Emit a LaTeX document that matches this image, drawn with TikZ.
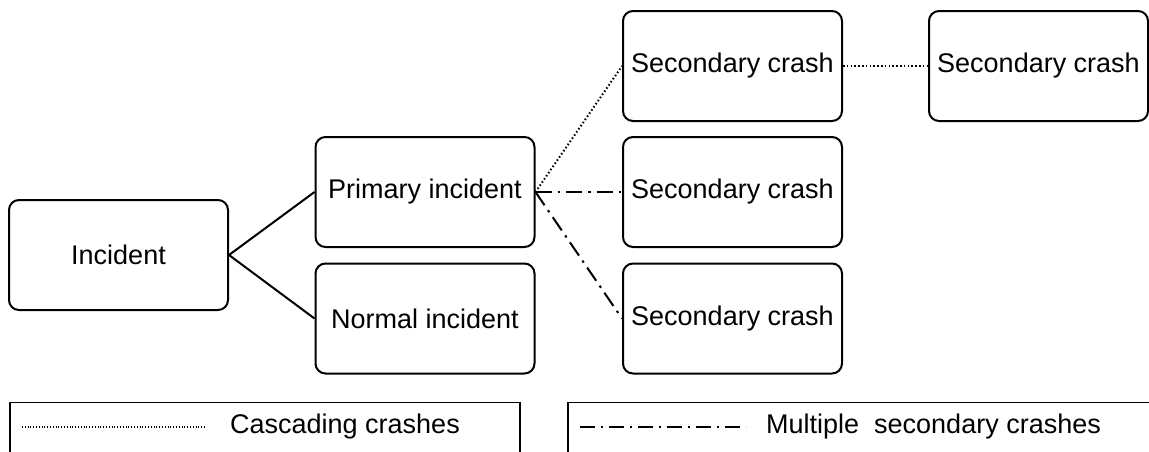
\documentclass[tikz,border=0pt]{standalone}
\usepackage{fontspec}
\setmainfont{Liberation Sans}
\begin{document}
\begin{tikzpicture}[x=1pt,y=-1pt,
  box/.style={draw,line width=2pt,rounded corners=10pt,minimum width=219pt,
    minimum height=110pt,inner sep=0pt,font=\fontsize{27}{30}\selectfont},
  link/.style={line width=2pt},
  dotlink/.style={line width=2pt,dash pattern=on 1.5pt off 2.3pt},
  dashdotlink/.style={line width=2pt,dash pattern=on 16pt off 6pt on 2.5pt off 6pt},
  legendframe/.style={line width=1.2pt},
  legendtext/.style={anchor=west,inner sep=0pt,font=\fontsize{27}{30}\selectfont}]
\useasboundingbox (0,0) rectangle (1149,451);
\clip (0,0) rectangle (1149,451);

% tree of incidents
\node[box] (inc) at (118.5,255) {Incident};
\node[box] (prim) at (425,192) {Primary incident};
\node[box] (norm) at (425,318.5) {Normal incident};
\node[box] (sec1) at (732.5,66) {Secondary crash};
\node[box] (sec2) at (732.5,192) {Secondary crash};
\node[box] (sec3) at (732.5,318.5) {Secondary crash};
\node[box] (sec4) at (1038.5,66) {Secondary crash};

\draw[link] (inc.east) -- (prim.west);
\draw[link] (inc.east) -- (norm.west);
\draw[dotlink] (prim.east) -- (sec1.west);
\draw[dashdotlink] (prim.east) -- (sec2.west);
\draw[dashdotlink] (prim.east) -- (sec3.west);
\draw[dotlink] (sec1.east) -- (sec4.west);

% legend
\draw[legendframe] (10,460) -- (10,402.5) -- (520,402.5) -- (520,460);
\draw[legendframe] (568,460) -- (568,402.5) -- (1160,402.5);
\draw[line width=1.2pt,dash pattern=on 1pt off 1.8pt] (22,427) -- (206,427);
\node[legendtext] (lcas) at (230,427) {Cascading crashes};
\draw[line width=1.8pt,dash pattern=on 15pt off 6pt on 2pt off 6pt] (580,427) -- (746,427);
\node[legendtext] (lmul) at (766,427) {Multiple\ \ secondary crashes};
\end{tikzpicture}
\end{document}
